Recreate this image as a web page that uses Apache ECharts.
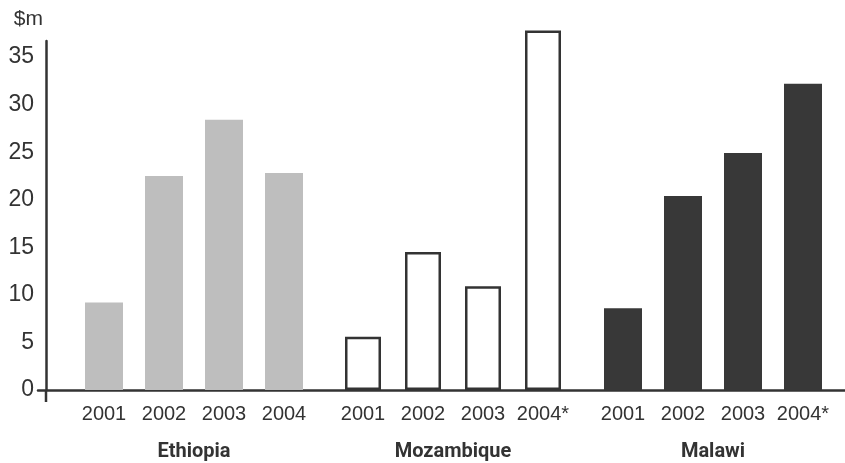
<!DOCTYPE html>
<html>
<head>
<meta charset="utf-8">
<script src="https://cdn.jsdelivr.net/npm/echarts@6/dist/echarts.min.js"></script>
<style>
  html, body { margin: 0; padding: 0; background: #fff; }
  #chart { width: 845px; height: 463px; }
</style>
</head>
<body>
<div id="chart"></div>
<script>
// data ($m)
var years = ['2001', '2002', '2003', '2004'];
var yearsEst = ['2001', '2002', '2003', '2004*'];
var countries = ['Ethiopia', 'Mozambique', 'Malawi'];
var ethiopia = [9.2, 22.5, 28.4, 22.8];
var mozambique = [5.6, 14.5, 10.9, 37.8];
var malawi = [8.6, 20.4, 24.9, 32.2];
var yTicks = [0, 5, 10, 15, 20, 25, 30, 35];

var chart = echarts.init(document.getElementById('chart'));

var font = "'Liberation Sans', Arial, sans-serif";
var axisColor = '#333';

// one grid per country, same vertical scale (0 at y=390, 38 at top)
var barLefts = [74, 333, 593];
var groupLabels = [years, yearsEst, yearsEst];
var groupData = [ethiopia, mozambique, malawi];
var barStyles = [
  { color: '#bebebe' },
  { color: '#fff', borderColor: '#333', borderWidth: 2.5 },
  { color: '#383838' }
];

var grids = [
  // axis grid: draws the $m axis and the baseline
  { left: 38, right: 0, top: 41, bottom: 73, outerBoundsMode: 'none' }
];
var xAxes = [
  {
    gridIndex: 0, type: 'category', data: [''],
    axisLine: { lineStyle: { color: axisColor, width: 2.5 } },
    axisTick: { show: false }, axisLabel: { show: false }
  }
];
var yAxes = [
  {
    gridIndex: 0, type: 'value', min: 0, max: 36.69, interval: 5,
    offset: -8,
    name: '$m',
    nameLocation: 'end',
    nameGap: 11,
    nameTextStyle: { color: '#333', fontSize: 21, fontFamily: font, align: 'right', padding: [0, 3, 0, 0] },
    axisLine: { show: true, lineStyle: { color: axisColor, width: 2.5 } },
    axisTick: { show: false },
    splitLine: { show: false },
    axisLabel: {
      color: '#333', fontSize: 23, fontFamily: font, margin: 12,
      formatter: function (v) { return yTicks.indexOf(v) >= 0 ? String(v) : ''; }
    }
  }
];
var series = [];

countries.forEach(function (name, i) {
  grids.push({ left: barLefts[i], width: 240, top: 28.5, bottom: 73, outerBoundsMode: 'none' });
  xAxes.push({
    gridIndex: i + 1, type: 'category', data: groupLabels[i],
    axisLine: { show: false }, axisTick: { show: false },
    axisLabel: { interval: 0, color: '#333', fontSize: 20, fontFamily: font, margin: 14 },
    name: name, nameLocation: 'middle', nameGap: 52,
    nameTextStyle: { color: '#333', fontSize: 20, fontWeight: 'bold', fontFamily: "'Liberation Sans Narrow', 'Roboto', " + font }
  });
  yAxes.push({
    gridIndex: i + 1, type: 'value', min: 0, max: 38, show: false
  });
  series.push({
    name: name, type: 'bar',
    xAxisIndex: i + 1, yAxisIndex: i + 1,
    barWidth: i === 1 ? 36 : 38,
    itemStyle: barStyles[i],
    data: groupData[i],
    z: 1
  });
});

var option = {
  animation: false,
  backgroundColor: '#fff',
  grid: grids,
  xAxis: xAxes,
  yAxis: yAxes,
  series: series,
  graphic: [
    // small stub of the y axis below the baseline
    { type: 'line', shape: { x1: 46, y1: 390, x2: 46, y2: 402 }, style: { stroke: axisColor, lineWidth: 2.5 }, z: 10 }
  ]
};

chart.setOption(option);
</script>
</body>
</html>
